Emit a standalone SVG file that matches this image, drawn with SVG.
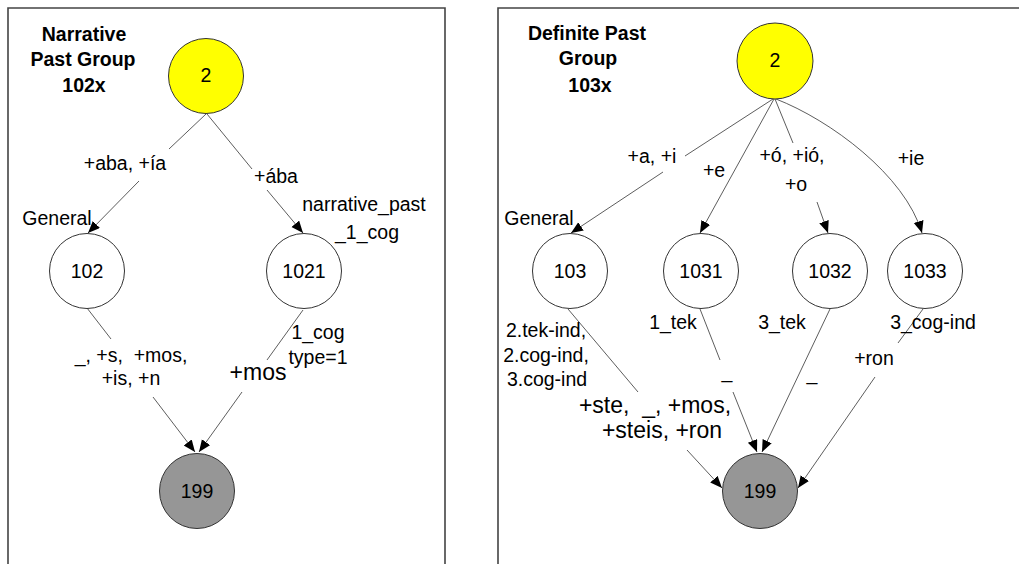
<svg xmlns="http://www.w3.org/2000/svg" width="1019" height="564" viewBox="0 0 1019 564">
<style>
text{font-family:"Liberation Sans",Arial,sans-serif;font-size:19.5px;fill:#000;text-anchor:middle;white-space:pre}
.title{font-weight:bold}
.big{font-size:23px}
.node circle{stroke:#333;stroke-width:1}
.plain circle{fill:#fff}
.start circle{fill:#ffff00}
.end circle{fill:#969696}
.edge{fill:none;stroke:#333;stroke-width:0.8;marker-end:url(#arr)}
.frame{fill:none;stroke:#444;stroke-width:1.6}
</style>
<defs>
<marker id="arr" markerUnits="userSpaceOnUse" markerWidth="13" markerHeight="11" refX="12" refY="5" orient="auto">
<path d="M0,0 L12,5 L0,10 z" fill="#000"/>
</marker>
</defs>
<rect x="0" y="0" width="1019" height="564" fill="#fff"/>
<g id="frames">
<path class="frame" d="M8,570 L8,8 L445,8 L445,570"/>
<path class="frame" d="M498,570 L498,8 L1025,8"/>
</g>
<g id="titles">
<text class="title" x="84" y="41">Narrative</text>
<text class="title" x="83" y="66">Past Group</text>
<text class="title" x="84" y="92">102x</text>
<text class="title" x="587" y="40">Definite Past</text>
<text class="title" x="588" y="65">Group</text>
<text class="title" x="590" y="92">103x</text>
</g>
<g id="connectors">
<path class="edge" d="M206,114 L169,149 M139,181 L88,233"/>
<path class="edge" d="M207,114 L252,169 M267,190 L303,233"/>
<path class="edge" d="M87,308 L111,339 M153,397 L195,452"/>
<path class="edge" d="M303,310 L267,360 M242,392 L199,452"/>
<path class="edge" d="M773,99 L685,156 M663,172 L571,233"/>
<path class="edge" d="M774,99 L700,233"/>
<path class="edge" d="M775,99 L793,143 M817,202 L828,233"/>
<path class="edge" d="M776,99 C830,120 905,175 922,233"/>
<path class="edge" d="M568,309 L638,392 M687,450 L722,488"/>
<path class="edge" d="M700,309 L720,360 M733,392 L757,452"/>
<path class="edge" d="M830,309 L762,452"/>
<path class="edge" d="M923,309 L898,343 M875,377 L798,488"/>
</g>
<g id="edge-labels">
<text x="125" y="170">+aba, +ía</text>
<text x="276" y="183">+ába</text>
<text x="364" y="211">narrative_past</text>
<text x="367" y="239">_1_cog</text>
<text x="57" y="225">General</text>
<text x="131" y="362">_, +s,  +mos,</text>
<text x="131" y="385">+is, +n</text>
<text x="318" y="339">1_cog</text>
<text x="318" y="364">type=1</text>
<text class="big" x="258" y="380">+mos</text>
<text x="652" y="163">+a, +i</text>
<text x="714" y="177">+e</text>
<text x="792" y="162">+ó, +ió,</text>
<text x="796" y="191">+o</text>
<text x="911" y="165">+ie</text>
<text x="539" y="225">General</text>
<text x="673" y="329">1_tek</text>
<text x="782" y="329">3_tek</text>
<text x="933" y="329">3_cog-ind</text>
<text x="546" y="337">2.tek-ind,</text>
<text x="546" y="362">2.cog-ind,</text>
<text x="547" y="386">3.cog-ind</text>
<text x="874" y="365">+ron</text>
<text x="727" y="378">_</text>
<text x="812" y="380">_</text>
<text class="big" x="655" y="413">+ste,  _, +mos,</text>
<text class="big" x="662" y="438">+steis, +ron</text>
</g>
<g id="n2a" class="node start"><circle cx="206" cy="76" r="37.5"/><text x="206" y="82">2</text></g>
<g id="n102" class="node plain"><circle cx="87" cy="271" r="37.5"/><text x="87" y="278">102</text></g>
<g id="n1021" class="node plain"><circle cx="304" cy="271" r="37.5"/><text x="304" y="278">1021</text></g>
<g id="n199a" class="node end"><circle cx="197" cy="491" r="37.5"/><text x="197" y="498">199</text></g>
<g id="n2b" class="node start"><circle cx="775" cy="61" r="38"/><text x="775" y="67">2</text></g>
<g id="n103" class="node plain"><circle cx="570" cy="271" r="37.5"/><text x="570" y="278">103</text></g>
<g id="n1031" class="node plain"><circle cx="701" cy="271" r="37.5"/><text x="701" y="278">1031</text></g>
<g id="n1032" class="node plain"><circle cx="830" cy="271" r="37.5"/><text x="830" y="278">1032</text></g>
<g id="n1033" class="node plain"><circle cx="925" cy="271" r="37.5"/><text x="925" y="278">1033</text></g>
<g id="n199b" class="node end"><circle cx="760" cy="491" r="37.5"/><text x="760" y="498">199</text></g>
</svg>
